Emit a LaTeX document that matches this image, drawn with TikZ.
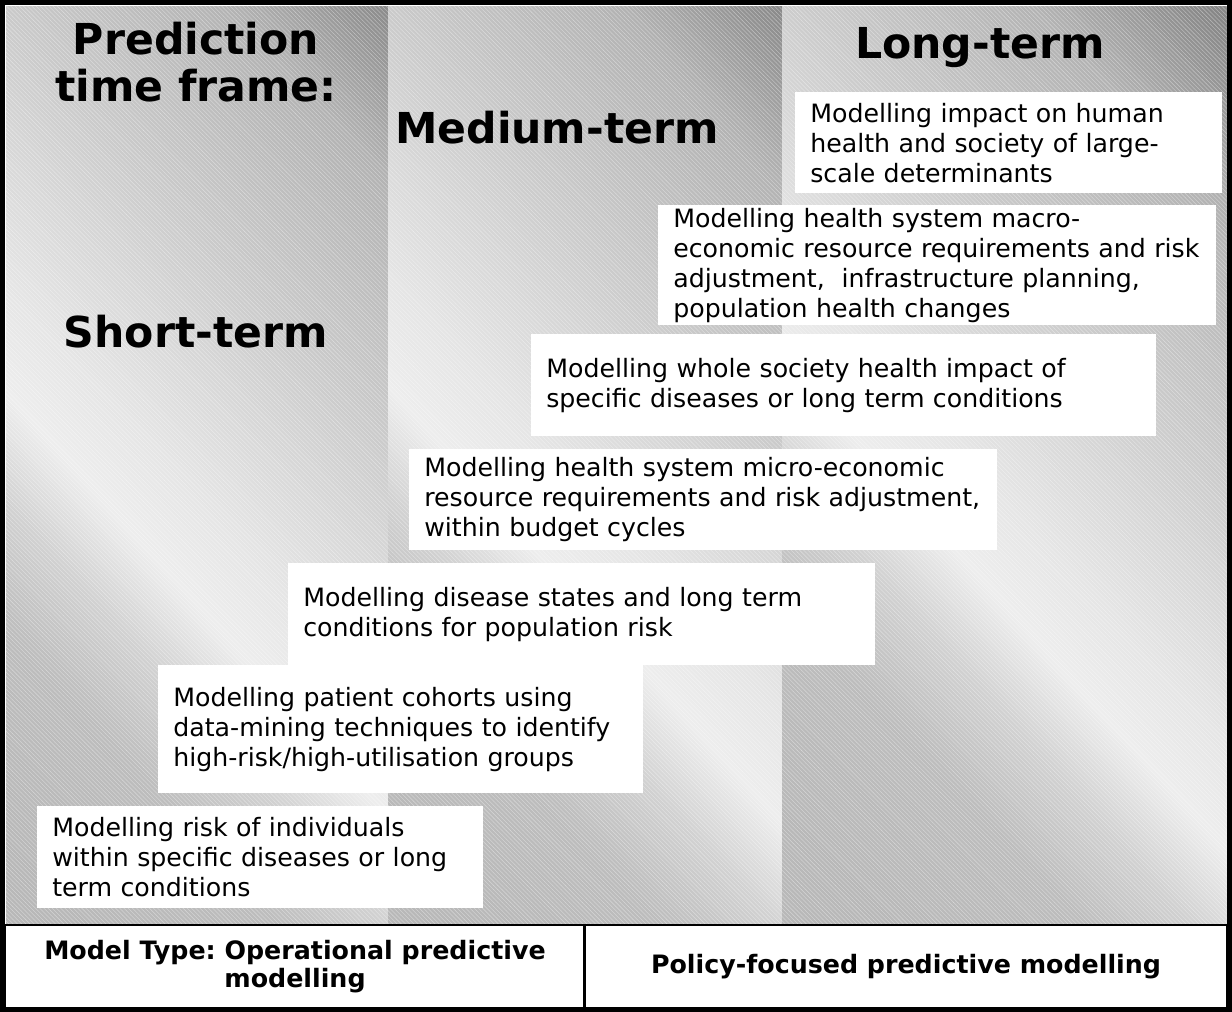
\documentclass[tikz,border=0pt]{standalone}
\usepackage{fontspec}
\setmainfont{DejaVu Sans}
\usetikzlibrary{patterns}

% brushed steel fill of the columns
\definecolor{steelA}{gray}{0.72}
\definecolor{steelB}{gray}{0.74}
\definecolor{steelC}{gray}{0.82}
\definecolor{steelD}{gray}{0.93}
\definecolor{steelE}{gray}{0.90}
\definecolor{steelF}{gray}{0.80}
\definecolor{steelG}{gray}{0.70}
\definecolor{steelH}{gray}{0.53}
\pgfdeclarehorizontalshading{steel}{100bp}{color(0bp)=(steelA); color(30bp)=(steelA); color(38bp)=(steelB); color(42bp)=(steelC); color(45.5bp)=(steelD); color(49bp)=(steelE); color(57bp)=(steelF); color(66bp)=(steelG); color(72bp)=(steelH); color(100bp)=(steelH)}

\tikzset{
  modelbox/.style={fill=white, anchor=north west, inner xsep=0.375cm, inner ysep=0pt,
    align=left, font=\fontsize{17.95}{21.3}\selectfont},
  heading/.style={font=\fontsize{30.3}{33.5}\selectfont\bfseries, align=center},
  typebox/.style={draw, line width=2.1pt, fill=white, inner sep=0pt, align=center,
    minimum height=2.075cm, font=\fontsize{18}{20}\selectfont\bfseries}
}

\begin{document}
\frenchspacing
\begin{tikzpicture}[x=0.025cm, y=-0.025cm]
  \useasboundingbox (0,0) rectangle (1232,1012);
  % short, medium and long term columns (square shade, clipped, keeps the angle)
  \foreach \a/\b in {6/388, 388/782, 782/1227}{
    \begin{scope}
      \clip (\a,7) rectangle (\b,925);
      \shade[shading=steel, shading angle=42] ({(\a+\b)/2-520},-54) rectangle ({(\a+\b)/2+520},986);
      \fill[pattern=north west lines, pattern color=white, opacity=0.35] (\a,7) rectangle (\b,925);
    \end{scope}
  }

  \node[heading] (frame) at (196,62) {Prediction\\time frame:};
  \node[heading, anchor=base] (short) at (196,347) {Short-term};
  \node[heading, anchor=base] (medium) at (557,143) {Medium-term};
  \node[heading, anchor=base] (long) at (980,59) {Long-term};

  % model boxes, from long term down to short term
  \node[modelbox, text width=9.925cm, minimum height=2.525cm] (determinants) at (795,92)
    {Modelling impact on human\\health and society of large-\\scale determinants};
  \node[modelbox, text width=13.2cm, minimum height=3cm] (macro) at (658,205)
    {Modelling health system macro-\\economic resource requirements and risk\\adjustment,~ infrastructure planning,\\population health changes};
  \node[modelbox, text width=14.875cm, minimum height=2.55cm] (society) at (531,334)
    {Modelling whole society health impact of\\specific diseases or long term conditions};
  \node[modelbox, text width=13.95cm, minimum height=2.525cm] (micro) at (409,449)
    {Modelling health system micro-economic\\resource requirements and risk adjustment,\\within budget cycles};
  \node[modelbox, text width=13.925cm, minimum height=2.55cm] (disease) at (288,563)
    {Modelling disease states and long term\\conditions for population risk};
  \node[modelbox, text width=11.375cm, minimum height=3.2cm] (cohorts) at (158,665)
    {Modelling patient cohorts using\\data-mining techniques to identify\\high-risk/high-utilisation groups};
  \node[modelbox, text width=10.4cm, minimum height=2.55cm] (individuals) at (37,806)
    {Modelling risk of individuals\\within specific diseases or long\\term conditions};

  % model type row
  \node[typebox, minimum width=14.5cm] (operational) at (295,966.5)
    {Model Type: Operational predictive\\modelling};
  \node[typebox, minimum width=16.05cm] (policy) at (906,966.5)
    {Policy-focused predictive modelling};

  \draw[line width=3.5pt] (2.5,2.5) rectangle (1229.5,1009.5);
\end{tikzpicture}
\end{document}
